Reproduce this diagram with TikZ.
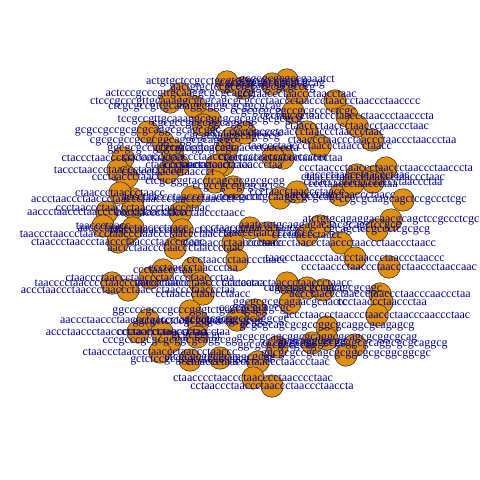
\documentclass[tikz,border=0pt]{standalone}
\usepackage{fontspec}
\setmainfont{Liberation Serif}
\usetikzlibrary{positioning}
\definecolor{vtxfill}{RGB}{224,144,12}
\definecolor{labblue}{RGB}{0,0,139}

% vertex x / y / sequence label
\newcommand\seqlist{%
227/82/actgtgctccgcctgcgtgcgcgcccgcgcg,
287/80/gcgcgcgcgccgaaatct,
243/88/aactgtgctccgcctgcgtgcgcgcccg,
272/84/cgcggtgcgcggcgcgcag,
297/94/ccctaaccctaaccctaacctaac,
335/101/ccctaaccctaaccctaaccctaaccctaacccc,
180/94/actcccgcccgttgcaaggcgcgcagcg,
170/102/ctcccgcccgttgcaaaggcgcgcagcgcg,
195/107/ctcgcgccgttgcaaaggcgggcgcggcgcag,
210/120/tccgccgttgcaaaggcggcgcgcggcgcgcgcg,
347/116/ccctaaccctaaccctaaccctaaccctaacccta,
357/126/ctaaccctaaccctaaccctaaccctaac,
372/140/ctaaccctaaccctaaccctaaccctaaccctaa,
293/112/ccgcgcgcggccgcgcccctcgc,
307/132/ccctaaccctaaccctaaccctaaccctaac,
320/146/taaccctaaccctaaccctaaccctaacc,
283/158/ccctaaccctaaccctaaccctaa,
386/168/ccctaaccctaaccctaaccctaaccctaacccta,
357/175/aaccctaaccctaaccctaac,
373/177/ctaaccctaaccctaaccctaaccctaac,
148/132/gcgccgccgcgcgcaggcgcagcggc,
163/142/cgcgcgccgcgcggcaggcgcagcgc,
172/150/ggcgcgccgcgcgcaggcgcagc,
123/158/ctaccctaaccctaaccctaaccct,
118/170/taccctaaccctaaccctaaccctaa,
127/177/ccctaaccctaacc,
173/157/ccctaaccctaaccctaacc,
178/165/ctaaccctaaccc,
168/172/ctaccctaaccctaaccct,
227/148/ccctaaccctaaccctaaccctaacccta,
223/165/ccctaaccctaaccctaaccctaa,
217/165/ccctaaccctaacc,
215/182/ctcgcgggtacctcagcgcggcgcgg,
203/125/cgcgccgcgcggcaggcg,
232/138/cgcgcaggcgcagcgcg,
245/133/ccctaaccctaaccc,
273/157/ctaaccctaaccctaaccctaa,
133/199/accctaaccctaaccctaaccctaaccctaaccctaaccct,
107/212/aaccctaaccctaaccctaaccctaaccctaa,
133/208/ccctaaccctaaccctaaccctaaccctaac,
120/193/ctaaccctaaccctaacc,
103/226/taaccctaacc,
126/234/taaccctaaccctaaccctaaccctaaccctaaccctaaccct,
118/242/ctaaccctaaccctaaccctaaccctaaccctaac,
133/228/aaccctaaccctaaccctaacc,
175/248/aaccctaaccctaaccctaaccctaac,
192/197/accctaaccctaaccctaaccctaaccc,
180/213/ccctaaccctaaccctaaccctaacc,
182/230/taaccctaaccctaaccctaaccctaacc,
233/187/ccgccgccgcgcgct,
233/243/ccctaaccctaaccctaacc,
237/260/ccctaaccctaaccctaacc,
280/198/tcccgccttgcaaggcgcgcagc,
297/192/ccctaacctaaccctaacc,
340/195/aacccctaacctaaccctaacc,
353/184/ccctaaccctaaccctaa,
373/182/ctaaccctaaccctaaccctaaccctaa,
403/200/ccgcgcaagcagctccgccctcgc,
391/220/atctgtgcagaggacaacgcagctccgccctcgc,
250/228/ccctaaccctaaccctaacc,
268/233/taaccctaaccctaaccc,
307/235/ccctaaccctaacc,
341/243/ccctaaccctaaccctaaccctaaccctaaccctaacc,
320/226/aaatctgtgcaggagacaacgcagctccgcc,
377/230/cgcagctccgccctcgcgcg,
355/258/taaccctaaccctaaccctaaccctaaccctaaccc,
389/267/ccctaaccctaaccctaaccctaaccctaaccaac,
150/278/ctaaccctaaccctaaccctaaccctaaccctaa,
163/270/ccctaaccctaa,
193/268/ccctaaccctaaccctaa,
128/290/accctaaccctaaccctaaccctaaccctaaccctaaccctaa,
112/283/taacccctaacccctaaccctaaccctaacc,
200/283/aaccctaaccctaaccctaaccctaa,
203/294/cctaaccctaaccctaacc,
287/283/ccctaaccctaaccctaaccctaacc,
307/288/aacctaaccctaacc,
323/290/ccgggcgcgcagcagcgcggc,
380/294/accctaaccctaaccctaaccctaacccaaccctaa,
382/302/ccctaaccctaaccctaa,
190/311/ggccccgcccgcccgggtctgacctgagg,
148/320/aaccctaaccctaaccctaaccctaaccctaaccc,
138/332/accctaaccctaaccctaaccctaaccctaaccctaa,
162/332/ccctaaccctaaccctaa,
170/342/cccgcccgcgcgcggcgcaggcgg,
160/352/ctaaccctaaccctaaccctaaccctaaccc,
190/360/gctctccgcgggcctcgctcgcg,
198/322/ggcgctctccgcgggcccgcgcgg,
197/337/gcgcggcgc,
237/320/cctcgcgcggcgcaggcgc,
290/303/ggcgcgcgcagaacgcaactc,
255/310/ccgcgcgcagcgc,
377/315/accctaaccctaaccctaaccctaacccaaccctaac,
327/327/gcgcgcagcgcgccggcgcaggcgcagagcg,
327/339/gcgcgcagcggcgcaggcgcagcgcggcgcag,
355/345/cccgcgcagcgccgcggcgcaggcgcgcaggcg,
346/355/ggcgcgccgcagcgcggcgcgcggcggcgc,
312/343/gcgcaggcgcgg,
277/347/ggcgcgcgccgcag,
220/358/ctcgcgcggcgcaggcgcgg,
258/362/ctaaccctaaccctaaccctaaccctaac,
253/378/ctaacccctaaccctaacccctaacccctaac,
272/386/cctaaccctaaccctaaccctaaccctaaccta}

\begin{document}
\begin{tikzpicture}[
    x=1bp, y=-1bp,
    vtx/.style={circle, draw=black!85, line width=0.5pt, fill=vtxfill,
        minimum size=22.5bp, inner sep=0pt},
    seqlab/.style={text=labblue, font=\fontsize{12}{12}\selectfont, inner sep=0pt}
]
\useasboundingbox (0,0) rectangle (480,480);

% vertices first, labels on top
\foreach \x/\y/\s [count=\i] in \seqlist
    \node[vtx] (v\i) at (\x,\y) {};
\foreach \x/\y/\s [count=\i] in \seqlist
    \node[seqlab] (l\i) at (v\i) {\s};
\end{tikzpicture}
\end{document}
